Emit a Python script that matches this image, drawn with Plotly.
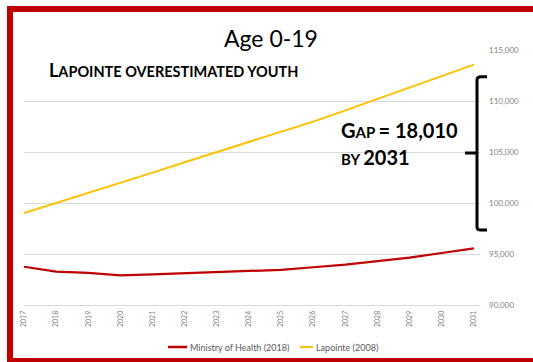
import plotly.graph_objects as go

years = list(range(2017, 2032))
year_labels = [str(y) for y in years]
ministry = [93750, 93270, 93150, 92900, 93000, 93100, 93200, 93320, 93450,
            93700, 93950, 94300, 94650, 95100, 95560]
lapointe = [99020, 100000, 101000, 101960, 102980, 104000, 105000, 105980, 106950,
            107980, 109080, 110200, 111300, 112430, 113570]
y_ticks = [90000, 95000, 100000, 105000, 110000, 115000]
series_names = ["Ministry of Health (2018)", "Lapointe (2008)"]
series_colors = ["#C00000", "#FFC000"]

W, H = 533, 362
L, R, T, B = 24, 53, 50, 57
pw, ph = W - L - R, H - T - B

def px(x):
    return (x - L) / pw

def py(y):
    return (H - B - y) / ph

FONT = "Lato"

fig = go.Figure()
fig.add_trace(go.Scatter(x=years, y=ministry, mode="lines", name=series_names[0],
                         line=dict(color=series_colors[0], width=2.2), hoverinfo="skip"))
fig.add_trace(go.Scatter(x=years, y=lapointe, mode="lines", name=series_names[1],
                         line=dict(color=series_colors[1], width=2), hoverinfo="skip"))

shapes = []
# white box behind title (breaks the top gridline)
shapes.append(dict(type="rect", xref="paper", yref="paper", x0=px(205), x1=px(355),
                   y0=py(56), y1=py(22), fillcolor="white", line=dict(width=0), layer="above"))
# bracket
xv, xh, xt = px(477), px(487), px(465)
top, bot, mid = 112380, 97350, 104900
path = (f"M {xh},{top} L {px(481)},{top} Q {xv},{top} {xv},{top-300} "
        f"L {xv},{bot+300} Q {xv},{bot} {px(481)},{bot} L {xh},{bot} "
        f"M {xt},{mid} L {xv},{mid}")
shapes.append(dict(type="path", xref="paper", yref="y", path=path,
                   line=dict(color="black", width=3), layer="above"))
# red frame: left, top and bottom edges (frame continues past the right edge)
frame = f"M {px(533)},{py(9)} L {px(10)},{py(9)} L {px(10)},{py(361)} L {px(533)},{py(361)}"
shapes.append(dict(type="path", xref="paper", yref="paper", path=frame,
                   line=dict(color="#C00000", width=6), layer="above"))

# custom legend (compact line samples like the original)
leg_y = 347
leg_items = [(168, 187, series_names[0], series_colors[0], 2.5),
             (300, 313, series_names[1], series_colors[1], 2.2)]
annotations = []
for x0, x1, name, col, w in leg_items:
    shapes.append(dict(type="line", xref="paper", yref="paper", x0=px(x0), x1=px(x1),
                       y0=py(leg_y), y1=py(leg_y), line=dict(color=col, width=w)))
    annotations.append(dict(text=name, xref="paper", yref="paper", x=px(x1 + 0.5), y=py(leg_y),
                            showarrow=False, xanchor="left", yanchor="middle",
                            font=dict(family=FONT, size=9, color="#595959")))

annotations += [
    dict(text="Age 0-19", xref="paper", yref="paper", x=px(271), y=py(38),
         showarrow=False, font=dict(family=FONT, size=23, color="#000000"),
         xanchor="center", yanchor="middle"),
    dict(text="<b><span style='font-size:18px'>L</span>APOINTE OVERESTIMATED YOUTH</b>",
         xref="paper", yref="paper", x=px(47), y=py(70), showarrow=False,
         font=dict(family=FONT, size=14.5, color="#000000"), xanchor="left", yanchor="middle"),
    dict(text="<b><span style='font-size:20px'>G</span>AP <span style='font-size:20px'>= 18,010</span></b>",
         xref="paper", yref="paper", x=px(339), y=py(130), showarrow=False,
         font=dict(family=FONT, size=15, color="#000000"), xanchor="left", yanchor="middle"),
    dict(text="<b>BY <span style='font-size:20px'>2031</span></b>",
         xref="paper", yref="paper", x=px(339), y=py(157), showarrow=False,
         font=dict(family=FONT, size=15, color="#000000"), xanchor="left", yanchor="middle"),
]

fig.update_layout(
    width=W, height=H, margin=dict(l=L, r=R, t=T, b=B, autoexpand=False),
    paper_bgcolor="white", plot_bgcolor="white",
    font=dict(family=FONT, color="#595959"),
    showlegend=False,
    xaxis=dict(range=[2017, 2031.19], tickvals=years, ticktext=year_labels,
               tickangle=-90, tickfont=dict(size=7, color="#7F7F7F"),
               showgrid=False, zeroline=False, showline=True, linecolor="#D9D9D9",
               linewidth=1, ticks="", ticklabelstandoff=2),
    yaxis=dict(range=[90000, 115000], side="right", tickvals=y_ticks, tickformat=",",
               tickfont=dict(size=8, color="#7F7F7F"), showgrid=True, gridcolor="#D9D9D9",
               gridwidth=1, zeroline=False, showline=False, ticks="", ticklabelstandoff=8),
    shapes=shapes, annotations=annotations,
)

fig.write_html("out.html", config={"displayModeBar": False, "staticPlot": True},
               post_script="document.body.style.margin='0';document.body.style.overflow='hidden';")
